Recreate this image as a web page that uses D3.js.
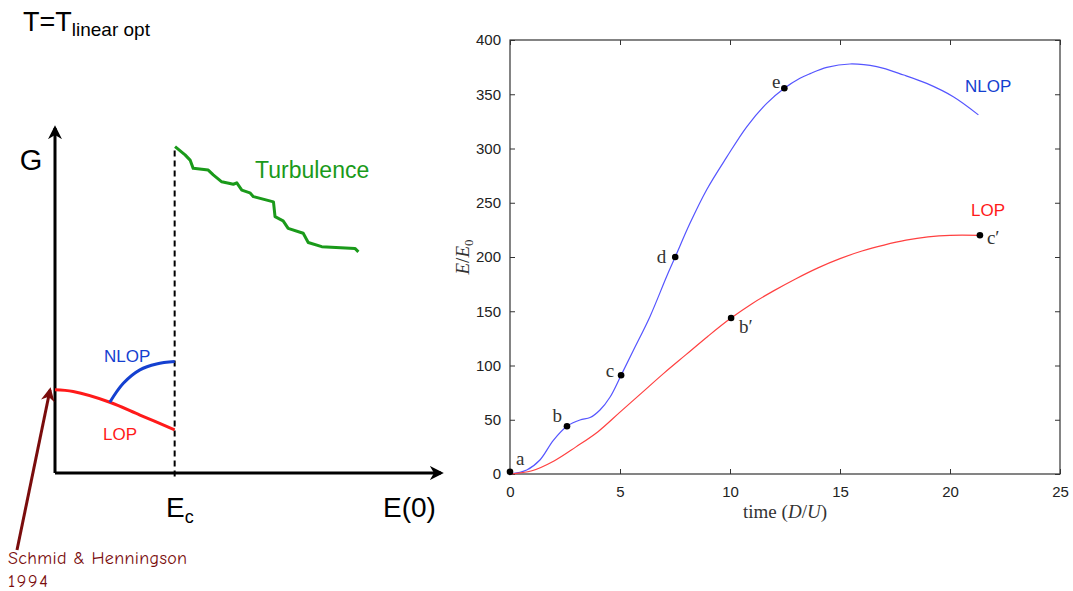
<!DOCTYPE html>
<html>
<head>
<meta charset="utf-8">
<script src="https://cdn.jsdelivr.net/npm/d3@7"></script>
<style>
  body { margin: 0; background: #fff; }
  svg { display: block; }
</style>
</head>
<body>
<div id="chart"></div>
<script>
// ---- left panel: schematic G vs E(0) (arbitrary units) ----
const ecValue = 3.1;
const lopSketch = [[0, 2.41], [0.47, 2.36], [1.42, 2.05], [2.2, 1.68], [3.1, 1.25]];
const nlopSketch = [[1.42, 2.05], [1.77, 2.6], [2.2, 2.99], [2.63, 3.16], [3.1, 3.23]];
const turbSketch = [
  [3.11, 9.46], [3.37, 9.22], [3.5, 9.07], [3.58, 8.83], [3.97, 8.78], [4.1, 8.64],
  [4.32, 8.44], [4.62, 8.37], [4.71, 8.41], [4.84, 8.2], [5.05, 8.12], [5.14, 8.01],
  [5.66, 7.86], [5.7, 7.43], [5.91, 7.31], [6.04, 7.09], [6.43, 6.95], [6.56, 6.68],
  [6.91, 6.56], [7.77, 6.51], [7.86, 6.41]
];

// ---- right panel: E/E0 vs time (D/U) ----
const nlopTime = [0, 0.76, 1.36, 1.97, 2.59, 3.18, 3.64, 4.09, 4.55, 5.05, 5.61, 6.36, 7.12, 7.51,
  8.18, 8.94, 9.85, 10.76, 11.67, 12.47, 13.18, 13.64, 14.4, 15.45, 16.67, 17.9, 18.94, 20.15, 21.29];
const nlopEnergy = [0, 3.7, 12.9, 31, 44, 49.8, 52, 59, 71, 91, 114, 145, 182, 200,
  231, 262, 292, 320, 341.6, 355.5, 364.7, 369, 374.8, 377.9, 375.4, 367.7, 360, 347.7, 331];
const lopTime = [0, 1, 2, 3, 4, 5, 6, 7, 8, 9, 10, 11, 12, 13, 14, 15, 16, 17, 18, 19, 20, 21.36];
const lopEnergy = [0, 3, 12, 25, 39, 57, 75, 93, 110, 127, 143, 157, 169, 180, 190, 198.5, 205.5, 211, 215.5, 218.5, 220, 220];
const markerLabels = ['a', 'b', 'c', 'd', 'e', 'b\u2032', 'c\u2032'];
const markerTime = [0, 2.59, 5.05, 7.51, 12.47, 10.05, 21.36];
const markerEnergy = [2, 44, 91, 200, 355.5, 143.8, 220];
const xTicks = [0, 5, 10, 15, 20, 25];
const yTicks = [0, 50, 100, 150, 200, 250, 300, 350, 400];

// label placement relative to each marker (a, b, c, d, e, b', c')
const markerOffsets = [[6, -7, 'start'], [-5, -4, 'end'], [-7, 2, 'end'], [-9, 6, 'end'],
  [-4, 0, 'end'], [8, 15, 'start'], [7, 9, 'start']];

const width = 1073, height = 591;
const svg = d3.select('#chart').append('svg')
  .attr('width', width)
  .attr('height', height);

// ================= left panel =================
const sx = d3.scaleLinear().domain([0, 10]).range([55, 441]);
const sy = d3.scaleLinear().domain([0, 10]).range([473, 128]);
const left = svg.append('g');

const defs = svg.append('defs');
function arrowMarker(id, color, size) {
  defs.append('marker')
    .attr('id', id)
    .attr('viewBox', '0 0 10 10')
    .attr('refX', 8).attr('refY', 5)
    .attr('markerWidth', size).attr('markerHeight', size)
    .attr('markerUnits', 'userSpaceOnUse')
    .attr('orient', 'auto')
    .append('path')
    .attr('d', 'M0,0 L10,5 L0,10 L3,5 Z')
    .attr('fill', color);
}
arrowMarker('arrowBlack', '#000', 14);
arrowMarker('arrowRed', '#7a0c0c', 14);

left.append('line')
  .attr('x1', sx(0)).attr('y1', sy(0))
  .attr('x2', sx(0)).attr('y2', sy(10))
  .attr('stroke', '#000').attr('stroke-width', 3)
  .attr('marker-end', 'url(#arrowBlack)');
left.append('line')
  .attr('x1', sx(0)).attr('y1', sy(0))
  .attr('x2', sx(10)).attr('y2', sy(0))
  .attr('stroke', '#000').attr('stroke-width', 3)
  .attr('marker-end', 'url(#arrowBlack)');

left.append('line')
  .attr('x1', sx(ecValue)).attr('y1', sy(-0.1))
  .attr('x2', sx(ecValue)).attr('y2', sy(turbSketch[0][1]))
  .attr('stroke', '#000').attr('stroke-width', 2)
  .attr('stroke-dasharray', '6 4');

const sketchLine = d3.line()
  .x(d => sx(d[0]))
  .y(d => sy(d[1]))
  .curve(d3.curveCatmullRom);

left.append('path').datum(lopSketch)
  .attr('fill', 'none').attr('stroke', '#ff1a1a').attr('stroke-width', 3)
  .attr('d', sketchLine);
left.append('path').datum(nlopSketch)
  .attr('fill', 'none').attr('stroke', '#1440d0').attr('stroke-width', 3)
  .attr('d', sketchLine);
left.append('path').datum(turbSketch)
  .attr('fill', 'none').attr('stroke', '#1a9a1a').attr('stroke-width', 3)
  .attr('stroke-linejoin', 'round')
  .attr('d', d3.line().x(d => sx(d[0])).y(d => sy(d[1])));

const sans = 'Liberation Sans, Arial, sans-serif';
const title = left.append('text')
  .attr('x', 23).attr('y', 31)
  .attr('font-family', sans).attr('font-size', 27).attr('fill', '#000');
title.append('tspan').text('T=T');
title.append('tspan').attr('font-size', 19).attr('dy', 5).text('linear opt');

left.append('text')
  .attr('x', 31).attr('y', 170)
  .attr('text-anchor', 'middle')
  .attr('font-family', sans).attr('font-size', 29).text('G');

left.append('text')
  .attr('x', 255).attr('y', 178)
  .attr('font-family', sans).attr('font-size', 23).attr('fill', '#1a9a1a')
  .text('Turbulence');

left.append('text')
  .attr('x', 104).attr('y', 362)
  .attr('font-family', sans).attr('font-size', 17).attr('fill', '#1440d0')
  .text('NLOP');
left.append('text')
  .attr('x', 103).attr('y', 440)
  .attr('font-family', sans).attr('font-size', 17).attr('fill', '#ff1a1a')
  .text('LOP');

const ecLabel = left.append('text')
  .attr('x', 166).attr('y', 517)
  .attr('font-family', sans).attr('font-size', 28);
ecLabel.append('tspan').text('E');
ecLabel.append('tspan').attr('font-size', 18).attr('dy', 6).text('c');

left.append('text')
  .attr('x', 383).attr('y', 517)
  .attr('font-family', sans).attr('font-size', 28).text('E(0)');

left.append('line')
  .attr('x1', 17).attr('y1', 550)
  .attr('x2', 50).attr('y2', 390)
  .attr('stroke', '#7a0c0c').attr('stroke-width', 3)
  .attr('marker-end', 'url(#arrowRed)');
const hand = 'Comic Neue, Comic Sans MS, DejaVu Sans, sans-serif';
left.append('text')
  .attr('x', 8).attr('y', 564)
  .attr('font-family', hand).attr('font-size', 18).attr('fill', '#7a0c0c')
  .attr('textLength', 179)
  .text('Schmid & Henningson');
left.append('text')
  .attr('x', 8).attr('y', 587)
  .attr('font-family', hand).attr('font-size', 18).attr('fill', '#7a0c0c')
  .attr('textLength', 40)
  .text('1994');

// ================= right panel =================
const x = d3.scaleLinear().domain([0, 25]).range([510, 1060]);
const y = d3.scaleLinear().domain([0, 400]).range([474, 40]);
const right = svg.append('g');
const serif = 'Liberation Serif, Times New Roman, serif';

right.append('rect')
  .attr('x', x(0)).attr('y', y(400))
  .attr('width', x(25) - x(0)).attr('height', y(0) - y(400))
  .attr('fill', 'none').attr('stroke', '#333').attr('stroke-width', 1.2);

const tickLen = 5;
right.append('g').attr('transform', `translate(0,${y(0)})`)
  .call(d3.axisBottom(x).tickValues(xTicks).tickSizeInner(-tickLen).tickSizeOuter(0).tickPadding(12))
  .call(g => g.select('.domain').remove());
right.append('g').attr('transform', `translate(0,${y(400)})`)
  .call(d3.axisTop(x).tickValues(xTicks).tickSizeInner(-tickLen).tickSizeOuter(0).tickFormat(''))
  .call(g => g.select('.domain').remove());
right.append('g').attr('transform', `translate(${x(0)},0)`)
  .call(d3.axisLeft(y).tickValues(yTicks).tickSizeInner(-tickLen).tickSizeOuter(0).tickPadding(9))
  .call(g => g.select('.domain').remove());
right.append('g').attr('transform', `translate(${x(25)},0)`)
  .call(d3.axisRight(y).tickValues(yTicks).tickSizeInner(-tickLen).tickSizeOuter(0).tickFormat(''))
  .call(g => g.select('.domain').remove());
right.selectAll('.tick line').attr('stroke', '#333');
right.selectAll('.tick text')
  .attr('font-family', sans).attr('font-size', 15).attr('fill', '#222');

const curve = d3.line()
  .x(d => x(d[0]))
  .y(d => y(d[1]))
  .curve(d3.curveCatmullRom.alpha(0.5));

right.append('path')
  .datum(nlopTime.map((t, i) => [t, nlopEnergy[i]]))
  .attr('fill', 'none').attr('stroke', '#5555ff').attr('stroke-width', 1.2)
  .attr('d', curve);
right.append('path')
  .datum(lopTime.map((t, i) => [t, lopEnergy[i]]))
  .attr('fill', 'none').attr('stroke', '#ff4040').attr('stroke-width', 1.2)
  .attr('d', curve);

const markers = markerLabels.map((l, i) => ({ label: l, t: markerTime[i], e: markerEnergy[i], off: markerOffsets[i] }));
right.selectAll('circle.m').data(markers).join('circle')
  .attr('class', 'm')
  .attr('cx', d => x(d.t)).attr('cy', d => y(d.e))
  .attr('r', 3.3).attr('fill', '#000');
right.selectAll('text.m').data(markers).join('text')
  .attr('class', 'm')
  .attr('x', d => x(d.t) + d.off[0]).attr('y', d => y(d.e) + d.off[1])
  .attr('text-anchor', d => d.off[2])
  .attr('font-family', serif).attr('font-size', 19).attr('fill', '#333')
  .text(d => d.label);

right.append('text')
  .attr('x', 965).attr('y', 92)
  .attr('font-family', sans).attr('font-size', 17).attr('fill', '#1440d0')
  .text('NLOP');
right.append('text')
  .attr('x', 971).attr('y', 216)
  .attr('font-family', sans).attr('font-size', 17).attr('fill', '#ff1a1a')
  .text('LOP');

const xl = right.append('text')
  .attr('x', x(12.5)).attr('y', 518)
  .attr('text-anchor', 'middle')
  .attr('font-family', serif).attr('font-size', 19).attr('fill', '#333');
xl.append('tspan').text('time (');
xl.append('tspan').attr('font-style', 'italic').text('D');
xl.append('tspan').text('/');
xl.append('tspan').attr('font-style', 'italic').text('U');
xl.append('tspan').text(')');

const yl = right.append('text')
  .attr('transform', `translate(469,${y(200)}) rotate(-90)`)
  .attr('text-anchor', 'middle')
  .attr('font-family', serif).attr('font-size', 19).attr('fill', '#333');
yl.append('tspan').attr('font-style', 'italic').text('E');
yl.append('tspan').text('/');
yl.append('tspan').attr('font-style', 'italic').text('E');
yl.append('tspan').attr('font-size', 13).attr('dy', 4).text('0');
</script>
</body>
</html>
